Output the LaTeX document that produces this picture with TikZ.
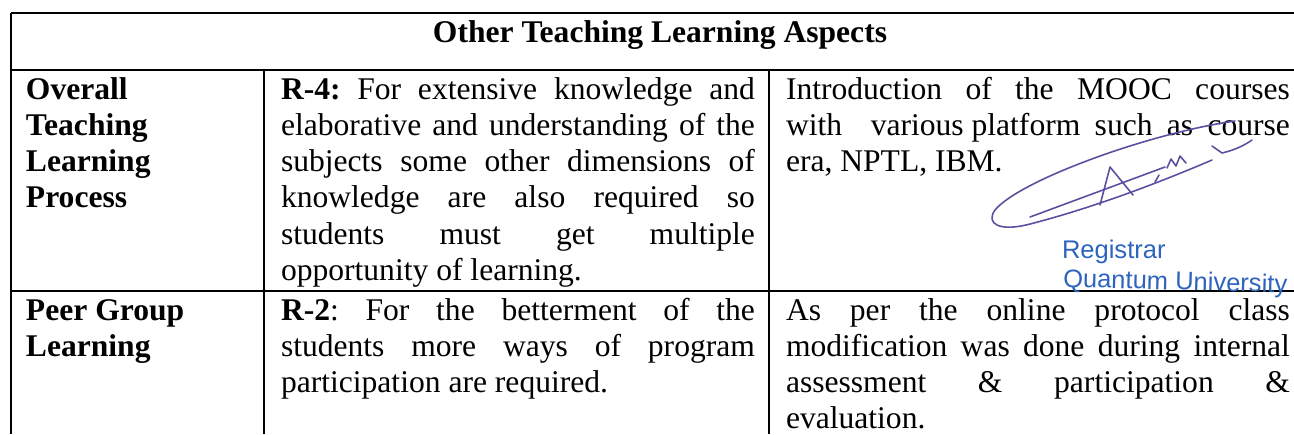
\documentclass[tikz,border=0pt]{standalone}
\usepackage{fontspec}
\setmainfont{Liberation Serif}
\newfontfamily\stampfont{Liberation Sans}
\definecolor{sigpurple}{RGB}{92,78,160}
\definecolor{stampblue}{RGB}{45,100,190}
\newcommand\jline[1]{\makebox[\linewidth][s]{#1}\\}
\frenchspacing
\tikzset{
  rule/.style={line width=0.75pt, black},
  celltext/.style={anchor=base west, inner sep=0pt, outer sep=0pt, font=\fontsize{12}{13.8}\selectfont},
  headtext/.style={anchor=base, inner sep=0pt, outer sep=0pt, font=\fontsize{12}{13.8}\selectfont\bfseries},
  sig/.style={draw=sigpurple, line width=0.6pt, line cap=round, line join=round},
  stamp/.style={anchor=base west, inner sep=0pt, outer sep=0pt, text=stampblue, font=\stampfont\fontsize{9.7}{11}\selectfont},
}
\begin{document}
\begin{tikzpicture}[x=0.38pt, y=-0.38pt]
\useasboundingbox (0,0) rectangle (1294,434);
\fill[white] (0,0) rectangle (1294,434);
% table rules
\draw[rule] (11,13) -- (1294,13);
\draw[rule] (11,70) -- (1294,70);
\draw[rule] (11,291) -- (1294,291);
\draw[rule] (11,13) -- (11,434);
\draw[rule] (264,70) -- (264,434);
\draw[rule] (769,70) -- (769,434);
% header
\node[headtext] (head) at (660,42) {Other Teaching Learning Aspects};
% row 1
\node[celltext] (c11) at (26,99) {\parbox[t]{90pt}{\bfseries Overall\\Teaching\\Learning\\Process}};
\node[celltext] (c12) at (281,99) {\parbox[t]{180.1pt}{%
\jline{\textbf{R-4:} For extensive knowledge and}
\jline{elaborative and understanding of the}
\jline{subjects some other dimensions of}
\jline{knowledge are also required so}
\jline{students must get multiple}
opportunity of learning.}};
\node[celltext] (c13) at (786,99) {\parbox[t]{191.5pt}{%
\jline{Introduction of the MOOC courses}
\jline{with\ \ various\kern0.25em platform such as course}
era, NPTL, IBM.}};
% row 2
\node[celltext] (c21) at (26,320) {\parbox[t]{90pt}{\bfseries Peer Group\\Learning}};
\node[celltext] (c22) at (281,320) {\parbox[t]{180.1pt}{%
\jline{\textbf{R-2}: For the betterment of the}
\jline{students more ways of program}
participation are required.}};
\node[celltext] (c23) at (786,320) {\parbox[t]{191.5pt}{%
\jline{As per the online protocol class}
\jline{modification was done during internal}
\jline{assessment \& participation \&}
evaluation.}};
% signature
\draw[sig] (1235,121) .. controls (1150,133) and (1020,180) .. (995,210)
  .. controls (985,224) and (1000,232) .. (1030,224)
  .. controls (1100,206) and (1170,178) .. (1212,160);
\draw[sig] (1030,217) -- (1165,167);
\draw[sig] (1100,205) -- (1110,167) -- (1133,195);
\draw[sig] (1155,182) -- (1159,175);
\draw[sig] (1167,168) -- (1171,159) -- (1176,166) -- (1180,156) -- (1186,163);
\draw[sig] (1212,146) -- (1222,153) .. controls (1235,150) and (1245,145) .. (1252,140);
% stamp
\node[stamp] (reg) at (1062,258) {Registrar};
\node[stamp, rotate=-1.5] (quni) at (1063,287) {Quantum University};
\end{tikzpicture}
\end{document}
